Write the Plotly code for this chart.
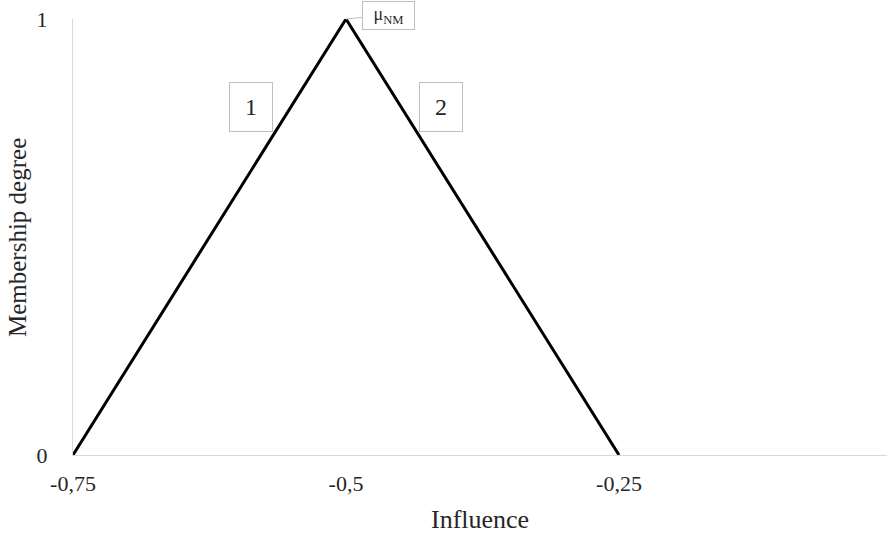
import plotly.graph_objects as go

# Data
influence = [-0.75, -0.5, -0.25]
membership = [0, 1, 0]
x_tickvals = [-0.75, -0.5, -0.25]
x_ticktext = ["-0,75", "-0,5", "-0,25"]
y_tickvals = [0, 1]
y_ticktext = ["0", "1"]
segment_labels = ["1", "2"]
peak_label = "μ<sub>NM</sub>"
x_title = "Influence"
y_title = "Membership degree"

FONT = "Liberation Serif"
GRID = "#d9d9d9"
TXT = "#262626"

fig = go.Figure()
fig.add_trace(go.Scatter(
    x=influence, y=membership, mode="lines",
    line=dict(color="black", width=3),
    cliponaxis=False, showlegend=False, hoverinfo="skip",
))

fig.update_layout(
    width=887, height=533,
    margin=dict(l=73, r=0, t=19, b=78, autoexpand=False),
    paper_bgcolor="white", plot_bgcolor="white",
    font=dict(family=FONT, color=TXT, size=22),
    xaxis=dict(
        range=[-0.75, -0.75 + 814 / 1092], showgrid=False, zeroline=False,
        showline=True, linecolor=GRID, linewidth=1, automargin=False,
        tickvals=x_tickvals, ticktext=x_ticktext, ticks="",
        ticklabelstandoff=9, tickfont=dict(size=22, family=FONT, color=TXT),
    ),
    yaxis=dict(
        range=[0, 1], showgrid=True, gridcolor=GRID, zeroline=False,
        showline=True, linecolor=GRID, linewidth=1, automargin=False,
        tickvals=y_tickvals, ticktext=y_ticktext, ticks="",
        ticklabelstandoff=20, tickfont=dict(size=22, family=FONT, color=TXT),
    ),
)

fig.add_annotation(
    x=0.5, y=-0.149, xref="paper", yref="paper", text=x_title, showarrow=False,
    xanchor="center", yanchor="middle", font=dict(size=26, family=FONT, color=TXT),
)
fig.add_annotation(
    x=-0.0688, y=0.5, xref="paper", yref="paper", text=y_title, showarrow=False,
    textangle=-90, xanchor="center", yanchor="middle",
    font=dict(size=25, family=FONT, color=TXT),
)

for lbl, xx in zip(segment_labels, [-0.587, -0.413]):
    fig.add_annotation(
        x=xx, y=0.798, xref="x", yref="y", text=lbl, showarrow=False,
        font=dict(size=24, family=FONT, color=TXT),
        bordercolor="#bfbfbf", borderwidth=1, borderpad=0,
        width=42, height=48, bgcolor="white",
    )

fig.add_annotation(
    x=-0.5, y=1, xref="x", yref="y", text=peak_label,
    showarrow=True, arrowhead=0, arrowcolor="#bfbfbf", arrowwidth=1,
    ax=42, ay=-4, font=dict(size=18, family=FONT, color=TXT),
    bordercolor="#bfbfbf", borderwidth=1, borderpad=0,
    width=51, height=27, bgcolor="white",
)

fig.write_html(
    "out.html",
    config={"displayModeBar": False},
    post_script="document.body.style.margin='0';document.body.style.overflow='hidden';",
)
